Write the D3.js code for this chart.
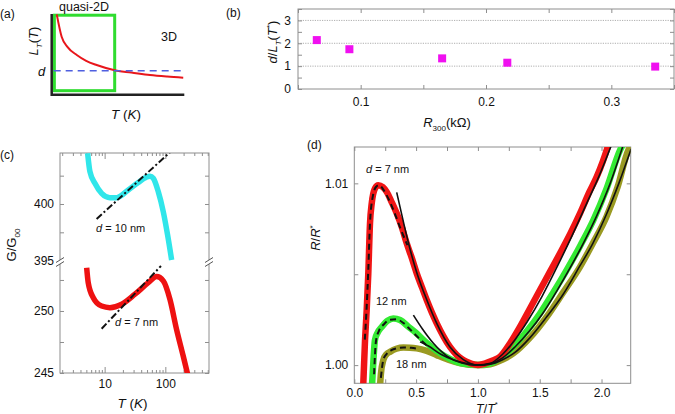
<!DOCTYPE html>
<html><head><meta charset="utf-8">
<script src="https://cdn.jsdelivr.net/npm/d3@7/dist/d3.min.js"></script>
<style>
body{margin:0;background:#fff}
svg{display:block;font-family:"Liberation Sans",Arial,Helvetica,sans-serif}
</style></head><body>
<svg id="c" width="675" height="414"></svg>
<script>
// ---------- DATA ----------
// (a) schematic L_T(T)
const aT = [0.38, 0.75, 1.2, 1.89, 2.6, 3.39, 4.83, 6, 7.41, 8.7, 9.92];
const aL = [9.96, 7.19, 5.9, 4.92, 4.2, 3.68, 3.0, 2.75, 2.44, 2.25, 2.11];
const aD = 2.97;
const aQuasiBox = [0.2, 4.75, 0.5, 9.85]; // T0, T1, L0, L1

// (b) d/L_T(T*) vs R300
const bR300 = [0.065, 0.091, 0.165, 0.217, 0.335];
const bRatio = [2.14, 1.74, 1.34, 1.15, 0.98];
const bXTicks = [0.05, 0.1, 0.15, 0.2, 0.25, 0.3, 0.35];
const bXLabels = [0.1, 0.2, 0.3];
const bYTicks = [0, 0.5, 1, 1.5, 2, 2.5, 3, 3.5];
const bYLabels = [0, 1, 2, 3];
const bGrid = [1, 2, 3];

// (c) G/G00 vs T (log)
const cyanT = [5.25, 5.73, 6.92, 8.93, 12.2, 15.8, 24.5, 35.8, 48, 56, 63.3, 76.5, 92.5, 109, 127];
const cyanG = [404.47, 402.85, 401.83, 400.94, 400.56, 400.56, 401.24, 401.9, 402.35, 402.45, 402.27, 401.09, 399.32, 397.26, 395.06];
const redT = [5.06, 5.37, 6.5, 8.93, 12.2, 19.1, 31.6, 52.4, 72, 92.5, 119, 153, 197, 233];
const redG = [253.49, 252.28, 251.07, 250.4, 250.27, 250.54, 251.35, 252.28, 252.77, 252.42, 250.94, 248.52, 246.37, 244.9];
const fit10T = [7.38, 119], fit10G = [398.68, 404.56];
const fit7T = [8.93, 84.8], fit7G = [248.57, 253.63];
const cXMajor = [10, 100];
const cXMinor = [2,3,4,5,6,7,8,9,20,30,40,50,60,70,80,90,200,300,400,500];
const cYUpperTicks = [397.5, 400, 402.5];
const cYUpperLabels = [395, 400];
const cYLowerTicks = [245, 247.5, 250, 252.5];
const cYLowerLabels = [245, 250];

// (d) R/R* vs T/T*
const d7 = [[0.07,0.9985],[0.087,1.0014],[0.1,1.0030],[0.113,1.0050],[0.127,1.0078],[0.141,1.0089],[0.167,1.00972],[0.194,1.0099],[0.23,1.0098],[0.262,1.00953],[0.3,1.0090],[0.343,1.00835],[0.384,1.0076],[0.424,1.0067],[0.465,1.0059],[0.505,1.00505],[0.546,1.0043],[0.586,1.00358],[0.627,1.0029],[0.667,1.0023],[0.72,1.0016],[0.774,1.0010],[0.83,1.00055],[0.882,1.00028],[0.94,1.0001],[1.0,1.0],[1.06,1.0001],[1.12,1.00025],[1.179,1.00046],[1.26,1.0012],[1.34,1.0021],[1.42,1.0031],[1.502,1.00413],[1.58,1.0051],[1.664,1.00615],[1.745,1.0072],[1.826,1.00835],[1.9,1.0095],[1.961,1.01036],[2.01,1.0112],[2.055,1.0121]];
const d12 = [[0.14,0.9985],[0.15,0.9997],[0.167,1.00138],[0.19,1.0018],[0.222,1.0021],[0.27,1.00245],[0.316,1.00257],[0.37,1.00248],[0.44,1.0021],[0.505,1.00174],[0.57,1.00132],[0.64,1.00092],[0.73,1.0005],[0.828,1.00018],[0.92,1.00004],[1.0,1.0],[1.1,1.0001],[1.2,1.0005],[1.286,1.0010],[1.4,1.0019],[1.502,1.00284],[1.61,1.0040],[1.718,1.00523],[1.83,1.0066],[1.934,1.00798],[2.04,1.0097],[2.15,1.01183],[2.17,1.0121]];
const d18 = [[0.205,0.9985],[0.215,0.9995],[0.235,1.00028],[0.26,1.0006],[0.289,1.00073],[0.34,1.0009],[0.397,1.00097],[0.45,1.00096],[0.505,1.00092],[0.58,1.0008],[0.667,1.00055],[0.76,1.0003],[0.86,1.0001],[1.0,1.0],[1.1,1.00005],[1.2,1.0003],[1.286,1.00064],[1.42,1.0015],[1.557,1.00266],[1.69,1.0040],[1.826,1.00541],[1.93,1.0067],[2.04,1.00816],[2.13,1.0098],[2.217,1.01183],[2.24,1.0121]];
const fitHi7 = [[0.343,1.0095],[0.4,1.0078],[0.45,1.0064],[0.505,1.0051],[0.586,1.0036],[0.667,1.0023],[0.774,1.0010],[0.882,1.0003],[1.0,1.0],[1.1,1.0001],[1.2,1.0006],[1.3,1.0014],[1.4,1.0024],[1.52,1.0038],[1.64,1.0054],[1.76,1.0071],[1.88,1.0089],[1.98,1.0104],[2.08,1.0121]];
const fitHi12 = [[0.478,1.00275],[0.55,1.0020],[0.64,1.0012],[0.75,1.0005],[0.87,1.00012],[1.0,1.0],[1.1,1.00008],[1.2,1.0004],[1.3,1.0010],[1.42,1.0019],[1.52,1.0028],[1.64,1.0041],[1.75,1.0054],[1.86,1.0068],[1.96,1.0082],[2.07,1.0100],[2.175,1.0121]];
const fitHi18 = [[0.532,1.00128],[0.6,1.00105],[0.7,1.0006],[0.8,1.0003],[0.9,1.0001],[1.0,1.0],[1.1,1.00005],[1.2,1.0003],[1.3,1.0007],[1.42,1.0015],[1.55,1.0026],[1.69,1.0039],[1.82,1.0054],[1.93,1.0067],[2.04,1.0083],[2.14,1.0100],[2.24,1.0119]];
const fitLo7 = [[0.085,1.0014],[0.1,1.0032],[0.113,1.0052],[0.127,1.0078],[0.15,1.0093],[0.175,1.0098],[0.2,1.0099],[0.24,1.0096],[0.28,1.0091],[0.33,1.0083],[0.38,1.0074],[0.43,1.0066]];
const fitLo12 = [[0.16,0.9995],[0.175,1.0013],[0.2,1.0019],[0.24,1.00225],[0.29,1.0025],[0.34,1.00252],[0.4,1.0023],[0.46,1.0019],[0.52,1.0015],[0.6,1.0010]];
const fitLo18 = [[0.215,0.9993],[0.235,1.0003],[0.26,1.0006],[0.3,1.00082],[0.35,1.00093],[0.4,1.00097],[0.46,1.00095],[0.52,1.0009]];
const dXTicks = [0, 0.25, 0.5, 0.75, 1, 1.25, 1.5, 1.75, 2];
const dXLabels = [0, 0.5, 1, 1.5, 2];
const dYTicks = [1.0, 1.005, 1.01];
const dYLabels = [1.0, 1.01];

// ---------- DRAWING ----------
const svg = d3.select("#c");
const FRAME = "#8e8e8e";
const defs = svg.append("defs");

function rich(parent, x, y, parts, size, anchor, rotate) {
  const t = parent.append("text").attr("font-size", size).attr("text-anchor", anchor || "start").attr("fill", "#111");
  if (rotate) t.attr("transform", `translate(${x},${y}) rotate(${rotate})`);
  else t.attr("x", x).attr("y", y);
  let shift = 0;
  parts.forEach(p => {
    const s = t.append("tspan").text(p.t);
    if (p.i) s.attr("font-style", "italic");
    const target = p.sub ? size * 0.32 : p.sup ? -size * 0.42 : 0;
    if (target !== shift) { s.attr("dy", target - shift); shift = target; }
    if (p.sub || p.sup) s.attr("font-size", size * 0.62);
  });
  return t;
}
function styleAxis(g) {
  g.select(".domain").remove();
  g.selectAll(".tick line").attr("stroke", FRAME).attr("stroke-width", 1);
  g.selectAll(".tick text").attr("fill", "#111").attr("font-size", 12)
    .attr("font-family", '"Liberation Sans",Arial,sans-serif');
}
function clip(id, x, y, w, h) {
  defs.append("clipPath").attr("id", id).append("rect").attr("x", x).attr("y", y).attr("width", w).attr("height", h);
}

// ===== (a) =====
{
  const g = svg.append("g");
  const x = d3.scaleLinear().domain([0, 10]).range([51.7, 184.3]);
  const y = d3.scaleLinear().domain([0, 10]).range([94.7, 14]);
  g.append("rect").attr("x", x(aQuasiBox[0])).attr("y", y(aQuasiBox[3]))
    .attr("width", x(aQuasiBox[1]) - x(aQuasiBox[0])).attr("height", y(aQuasiBox[2]) - y(aQuasiBox[3]))
    .attr("fill", "none").attr("stroke", "#2fdc2f").attr("stroke-width", 3);
  g.append("path").datum(aT.map((t, i) => [t, aL[i]]))
    .attr("d", d3.line().x(d => x(d[0])).y(d => y(d[1])).curve(d3.curveMonotoneX))
    .attr("fill", "none").attr("stroke", "#e8161b").attr("stroke-width", 2);
  g.append("line").attr("x1", x(0.15)).attr("x2", x(10)).attr("y1", y(aD)).attr("y2", y(aD))
    .attr("stroke", "#4f5fe0").attr("stroke-width", 1.6).attr("stroke-dasharray", "7,5");
  g.append("path").attr("d", `M${x(0)},${y(10)}V${y(0)}H${x(10)}`)
    .attr("fill", "none").attr("stroke", "#222").attr("stroke-width", 2.5);
  rich(g, 0, 18, [{t: "(a)"}], 12);
  rich(g, 59, 11, [{t: "quasi-2D"}], 12.5);
  rich(g, 161, 41, [{t: "3D"}], 12.5);
  rich(g, 38, 41, [{t: "L", i: 1}, {t: "T", i: 1, sub: 1}, {t: "("}, {t: "T", i: 1}, {t: ")"}], 13, "middle", -90);
  rich(g, 38, 75.5, [{t: "d", i: 1}], 13);
  rich(g, 126, 118.5, [{t: "T", i: 1}, {t: " ("}, {t: "K", i: 1}, {t: ")"}], 13.5, "middle");
}

// ===== (b) =====
{
  const g = svg.append("g");
  const x = d3.scaleLinear().domain([0.05, 0.35]).range([298, 674]);
  const y = d3.scaleLinear().domain([0, 3.5]).range([89, 9]);
  g.selectAll("line.grid").data(bGrid).join("line").attr("class", "grid")
    .attr("x1", x(0.05)).attr("x2", x(0.35)).attr("y1", d => y(d)).attr("y2", d => y(d))
    .attr("stroke", "#9a9a9a").attr("stroke-width", 0.8).attr("stroke-dasharray", "1.2,1.2");
  const fmtX = d => bXLabels.some(v => Math.abs(v - d) < 1e-9) ? d3.format(".1f")(d) : "";
  const fmtY = d => bYLabels.includes(d) ? String(d) : "";
  g.append("g").attr("transform", `translate(0,${y(0)})`).call(d3.axisBottom(x).tickValues(bXTicks).tickSizeInner(-4).tickSizeOuter(0).tickPadding(8).tickFormat(fmtX)).call(styleAxis);
  g.append("g").attr("transform", `translate(0,${y(3.5)})`).call(d3.axisTop(x).tickValues(bXTicks).tickSizeInner(-4).tickSizeOuter(0).tickFormat("")).call(styleAxis);
  g.append("g").attr("transform", `translate(${x(0.05)},0)`).call(d3.axisLeft(y).tickValues(bYTicks).tickSizeInner(-4).tickSizeOuter(0).tickPadding(7).tickFormat(fmtY)).call(styleAxis);
  g.append("g").attr("transform", `translate(${x(0.35)},0)`).call(d3.axisRight(y).tickValues(bYTicks).tickSizeInner(-4).tickSizeOuter(0).tickFormat("")).call(styleAxis);
  g.append("rect").attr("x", x(0.05)).attr("y", y(3.5)).attr("width", x(0.35) - x(0.05)).attr("height", y(0) - y(3.5))
    .attr("fill", "none").attr("stroke", FRAME).attr("stroke-width", 1);
  g.selectAll("rect.pt").data(bR300.map((r, i) => [r, bRatio[i]])).join("rect").attr("class", "pt")
    .attr("x", d => x(d[0]) - 4).attr("y", d => y(d[1]) - 4).attr("width", 8).attr("height", 8).attr("fill", "#f010f0");
  rich(g, 226, 16.5, [{t: "(b)"}], 12);
  rich(g, 277, 42, [{t: "d", i: 1}, {t: "/"}, {t: "L", i: 1}, {t: "T", i: 1, sub: 1}, {t: "("}, {t: "T", i: 1}, {t: "*", sup: 1}, {t: ")"}], 13, "middle", -90);
  rich(g, 447, 127, [{t: "R", i: 1}, {t: "300", sub: 1}, {t: "(k\u03a9)"}], 13, "middle");
}

// ===== (c) =====
{
  const g = svg.append("g");
  const L = 60, R = 209, T = 153, B = 373, BR = 262;
  const x = d3.scaleLog().domain([1.84, 524]).range([L, R]);
  const yU = d3.scaleLinear().domain([395, 404.5]).range([260.65, T]);
  const yL = d3.scaleLinear().domain([245, 253.9]).range([B, 262.6]);
  clip("clipCU", L, T, R - L, BR - T);
  clip("clipCL", L, BR, R - L, B - BR);
  const line = ys => d3.line().x(d => x(d[0])).y(d => ys(d[1])).curve(d3.curveMonotoneX);
  const allX = cXMajor.concat(cXMinor);
  const fmtC = d => cXMajor.includes(d) ? String(d) : "";
  const bAx = g.append("g").attr("transform", `translate(0,${B})`).call(d3.axisBottom(x).tickValues(allX).tickSizeOuter(0).tickSizeInner(-3).tickPadding(6).tickFormat(fmtC)).call(styleAxis);
  bAx.selectAll(".tick line").filter(d => cXMajor.includes(d)).attr("y2", -6);
  const tAx = g.append("g").attr("transform", `translate(0,${T})`).call(d3.axisTop(x).tickValues(allX).tickSizeOuter(0).tickSizeInner(-3).tickFormat("")).call(styleAxis);
  tAx.selectAll(".tick line").filter(d => cXMajor.includes(d)).attr("y2", 6);
  const fU = d => cYUpperLabels.includes(d) ? String(d) : "";
  const fL = d => cYLowerLabels.includes(d) ? String(d) : "";
  g.append("g").attr("transform", `translate(${L},0)`).call(d3.axisLeft(yU).tickValues(cYUpperTicks.concat([395])).tickSizeInner(-4).tickSizeOuter(0).tickPadding(6).tickFormat(fU)).call(styleAxis)
    .selectAll(".tick line").filter(d => d === 395).remove();
  g.append("g").attr("transform", `translate(${R},0)`).call(d3.axisRight(yU).tickValues(cYUpperTicks).tickSizeInner(-4).tickSizeOuter(0).tickFormat("")).call(styleAxis);
  g.append("g").attr("transform", `translate(${L},0)`).call(d3.axisLeft(yL).tickValues(cYLowerTicks).tickSizeInner(-4).tickSizeOuter(0).tickPadding(6).tickFormat(fL)).call(styleAxis);
  g.append("g").attr("transform", `translate(${R},0)`).call(d3.axisRight(yL).tickValues(cYLowerTicks).tickSizeInner(-4).tickSizeOuter(0).tickFormat("")).call(styleAxis);
  g.append("rect").attr("x", L).attr("y", T).attr("width", R - L).attr("height", B - T)
    .attr("fill", "none").attr("stroke", FRAME).attr("stroke-width", 1);
  g.append("path").datum(cyanT.map((t, i) => [t, cyanG[i]])).attr("d", line(yU)).attr("clip-path", "url(#clipCU)")
    .attr("fill", "none").attr("stroke", "#30e6ea").attr("stroke-width", 5.5);
  g.append("path").datum(redT.map((t, i) => [t, redG[i]])).attr("d", line(yL)).attr("clip-path", "url(#clipCL)")
    .attr("fill", "none").attr("stroke", "#ee1111").attr("stroke-width", 5.5);
  g.append("path").datum(fit10T.map((t, i) => [t, fit10G[i]])).attr("d", d3.line().x(d => x(d[0])).y(d => yU(d[1])))
    .attr("clip-path", "url(#clipCU)").attr("fill", "none").attr("stroke", "#111").attr("stroke-width", 2).attr("stroke-dasharray", "7,2.5,2,2.5");
  g.append("path").datum(fit7T.map((t, i) => [t, fit7G[i]])).attr("d", d3.line().x(d => x(d[0])).y(d => yL(d[1])))
    .attr("clip-path", "url(#clipCL)").attr("fill", "none").attr("stroke", "#111").attr("stroke-width", 2).attr("stroke-dasharray", "7,2.5,2,2.5");
  [L, R].forEach(px => {
    g.append("rect").attr("x", px - 2).attr("y", BR - 2).attr("width", 4).attr("height", 4).attr("fill", "#fff");
    [-2, 2].forEach(o => g.append("line").attr("x1", px - 4).attr("y1", BR + o + 2.5).attr("x2", px + 4).attr("y2", BR + o - 2.5)
      .attr("stroke", "#555").attr("stroke-width", 1));
  });
  rich(g, 0, 159, [{t: "(c)"}], 12);
  rich(g, 16, 245, [{t: "G/G"}, {t: "00", sub: 1}], 13, "middle", -90);
  rich(g, 132.5, 407.5, [{t: "T", i: 1}, {t: " ("}, {t: "K", i: 1}, {t: ")"}], 13.5, "middle");
  rich(g, 96, 231.5, [{t: "d", i: 1}, {t: " = 10 nm"}], 11);
  rich(g, 115, 326, [{t: "d", i: 1}, {t: " = 7 nm"}], 11);
}

// ===== (d) =====
{
  const g = svg.append("g");
  const L = 354.3, R = 630.7, T = 147, B = 383.3;
  const x = d3.scaleLinear().domain([0, 2.236]).range([L, R]);
  const y = d3.scaleLinear().domain([0.999, 1.012]).range([B, T]);
  clip("clipD", L, T, R - L, B - T);
  const line = d3.line().x(d => x(d[0])).y(d => y(d[1])).curve(d3.curveMonotoneX);
  const fX = d => dXLabels.includes(d) ? d3.format(".1f")(d) : "";
  const fY = d => dYLabels.includes(d) ? d3.format(".2f")(d) : "";
  g.append("g").attr("transform", `translate(0,${B})`).call(d3.axisBottom(x).tickValues(dXTicks).tickSizeInner(-4).tickSizeOuter(0).tickPadding(5).tickFormat(fX)).call(styleAxis);
  g.append("g").attr("transform", `translate(0,${T})`).call(d3.axisTop(x).tickValues(dXTicks).tickSizeInner(-4).tickSizeOuter(0).tickFormat("")).call(styleAxis);
  g.append("g").attr("transform", `translate(${L},0)`).call(d3.axisLeft(y).tickValues(dYTicks).tickSizeInner(-4).tickSizeOuter(0).tickPadding(6).tickFormat(fY)).call(styleAxis);
  g.append("g").attr("transform", `translate(${R},0)`).call(d3.axisRight(y).tickValues(dYTicks).tickSizeInner(-4).tickSizeOuter(0).tickFormat("")).call(styleAxis);
  g.append("rect").attr("x", L).attr("y", T).attr("width", R - L).attr("height", B - T)
    .attr("fill", "none").attr("stroke", FRAME).attr("stroke-width", 1);
  const c = g.append("g").attr("clip-path", "url(#clipD)");
  [[d18, "#9a9a22"], [d12, "#33ea33"], [d7, "#f01515"]].forEach(([d, col]) =>
    c.append("path").datum(d).attr("d", line).attr("fill", "none").attr("stroke", col).attr("stroke-width", 6.5));
  [fitLo7, fitLo12, fitLo18].forEach(d =>
    c.append("path").datum(d).attr("d", line).attr("fill", "none").attr("stroke", "#111").attr("stroke-width", 2).attr("stroke-dasharray", "6,4"));
  [fitHi7, fitHi12, fitHi18].forEach(d =>
    c.append("path").datum(d).attr("d", line).attr("fill", "none").attr("stroke", "#111").attr("stroke-width", 1.6));
  rich(g, 307, 149, [{t: "(d)"}], 12);
  rich(g, 320, 238, [{t: "R", i: 1}, {t: "/"}, {t: "R", i: 1}, {t: "*", sup: 1}], 13, "middle", -90);
  rich(g, 487, 412.5, [{t: "T", i: 1}, {t: "/"}, {t: "T", i: 1}, {t: "*", sup: 1}], 12.5, "middle");
  rich(g, 366, 173, [{t: "d", i: 1}, {t: " = 7 nm"}], 11);
  rich(g, 376, 305, [{t: "12 nm"}], 11);
  rich(g, 396, 368, [{t: "18 nm"}], 11);
}
</script>
</body></html>
